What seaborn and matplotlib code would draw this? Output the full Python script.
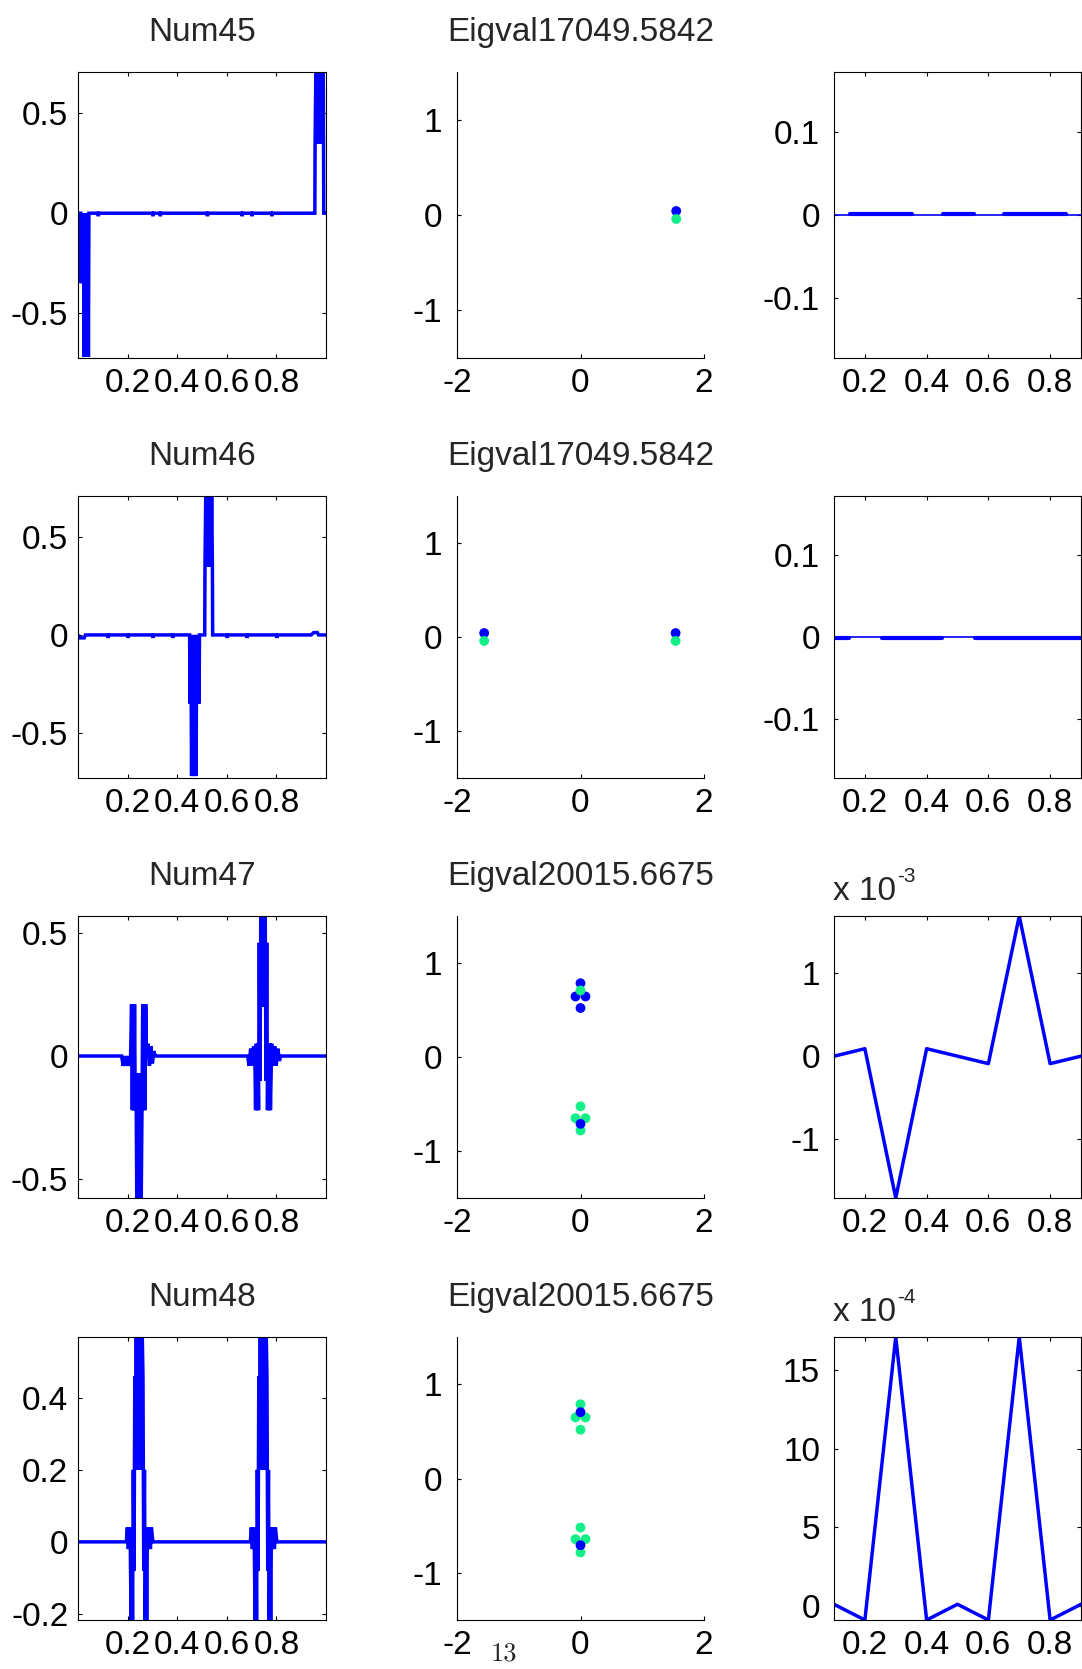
import matplotlib
matplotlib.use("Agg")
import matplotlib.pyplot as plt
import pandas as pd
import seaborn as sns

# ---------------- data ----------------
titles_left = ["Num45", "Num46", "Num47", "Num48"]
titles_mid = ["Eigval17049.5842", "Eigval17049.5842", "Eigval20015.6675", "Eigval20015.6675"]

# left column: eigenvector profiles (breakpoints)
num45_x = [0.000, 0.011, 0.012, 0.014, 0.016, 0.018, 0.020, 0.022, 0.025, 0.028, 0.031, 0.034, 0.037, 0.040, 0.042, 0.044,
           0.080, 0.082, 0.084, 0.300, 0.302, 0.304, 0.330, 0.332, 0.334, 0.520, 0.522, 0.524,
           0.660, 0.662, 0.664, 0.700, 0.702, 0.704, 0.780, 0.782, 0.784,
           0.955, 0.956, 0.959, 0.962, 0.965, 0.968, 0.971, 0.974, 0.977, 0.980, 0.983, 0.986, 0.989, 0.991, 1.000]
num45_y = [0.0, 0.0, -0.35, 0.0, -0.35, 0.0, -0.35, 0.0, -0.72, 0.0, -0.72, 0.0, -0.72, 0.0, -0.72, 0.0,
           0.0, -0.015, 0.0, 0.0, -0.015, 0.0, 0.0, -0.015, 0.0, 0.0, -0.015, 0.0,
           0.0, -0.015, 0.0, 0.0, -0.015, 0.0, 0.0, -0.015, 0.0,
           0.0, 0.35, 0.71, 0.35, 0.71, 0.35, 0.71, 0.35, 0.71, 0.35, 0.71, 0.35, 0.71, 0.0, 0.0]

num46_x = [0.000, 0.008, 0.025, 0.030, 0.120, 0.122, 0.124, 0.200, 0.202, 0.204, 0.300, 0.302, 0.304, 0.380, 0.382, 0.384,
           0.450, 0.452, 0.455, 0.458, 0.461, 0.464, 0.467, 0.470, 0.473, 0.476, 0.479, 0.482, 0.485, 0.488, 0.490,
           0.511, 0.512, 0.515, 0.518, 0.521, 0.524, 0.527, 0.530, 0.533, 0.536, 0.539, 0.542, 0.543,
           0.600, 0.602, 0.604, 0.680, 0.682, 0.684, 0.800, 0.802, 0.804, 0.940, 0.950, 0.965, 0.970, 1.000]
num46_y = [0.0, -0.015, -0.015, 0.0, 0.0, -0.015, 0.0, 0.0, -0.015, 0.0, 0.0, -0.015, 0.0, 0.0, -0.015, 0.0,
           0.0, -0.35, 0.0, -0.72, 0.0, -0.72, 0.0, -0.72, 0.0, -0.72, 0.0, -0.35, 0.0, -0.35, 0.0,
           0.0, 0.35, 0.71, 0.35, 0.71, 0.35, 0.71, 0.35, 0.71, 0.35, 0.71, 0.35, 0.0,
           0.0, -0.015, 0.0, 0.0, -0.015, 0.0, 0.0, -0.015, 0.0, 0.0, 0.012, 0.012, 0.0, 0.0]

num47_x = [0.000, 0.176, 0.182, 0.188, 0.194, 0.200, 0.206, 0.212,
           0.216, 0.219, 0.222, 0.225, 0.228, 0.231,
           0.234, 0.237, 0.240, 0.243, 0.246, 0.249, 0.252, 0.255,
           0.258, 0.261, 0.264, 0.267, 0.270, 0.273, 0.276,
           0.282, 0.288, 0.294, 0.300, 0.306, 0.312,
           0.684, 0.690, 0.696, 0.702, 0.708, 0.713,
           0.716, 0.719, 0.722, 0.725, 0.728, 0.731, 0.734,
           0.737, 0.740, 0.743, 0.746, 0.749, 0.752, 0.755,
           0.758, 0.761, 0.764, 0.767, 0.770, 0.773, 0.776,
           0.781, 0.787, 0.793, 0.799, 0.806, 0.812, 0.818, 1.000]
num47_y = [0.0, 0.0, -0.04, 0.0, -0.04, 0.0, -0.04, 0.0,
           0.21, -0.22, 0.21, -0.22, 0.21, -0.22,
           -0.07, -0.58, -0.07, -0.58, -0.07, -0.58, -0.07, -0.58,
           -0.22, 0.21, -0.22, 0.21, -0.22, 0.21, 0.0,
           0.05, -0.04, 0.04, -0.03, 0.02, 0.0,
           0.0, -0.04, 0.03, -0.04, 0.04, 0.0,
           -0.22, 0.05, -0.22, 0.05, -0.22, 0.46, -0.10,
           0.57, 0.20, 0.57, 0.20, 0.57, 0.20, 0.57,
           -0.10, 0.46, -0.22, 0.05, -0.22, 0.05, -0.22,
           0.05, -0.04, 0.04, -0.04, 0.03, -0.02, 0.0, 0.0]

num48_x = [0.000, 0.195, 0.199, 0.203, 0.207, 0.211,
           0.214, 0.217, 0.220, 0.223, 0.226, 0.229, 0.232,
           0.235, 0.238, 0.241, 0.244, 0.247, 0.250, 0.253, 0.256, 0.259,
           0.262, 0.265, 0.268, 0.271, 0.274, 0.277, 0.280,
           0.284, 0.288, 0.292, 0.296, 0.302,
           0.695, 0.699, 0.703, 0.707, 0.711,
           0.714, 0.717, 0.720, 0.723, 0.726, 0.729, 0.732,
           0.735, 0.738, 0.741, 0.744, 0.747, 0.750, 0.753, 0.756, 0.759,
           0.762, 0.765, 0.768, 0.771, 0.774, 0.777, 0.780,
           0.784, 0.788, 0.792, 0.796, 0.802, 1.000]
num48_y = [0.0, 0.0, 0.04, -0.02, 0.04, -0.02,
           -0.22, 0.04, -0.22, 0.20, -0.08, 0.46, 0.20,
           0.58, 0.20, 0.58, 0.20, 0.58, 0.20, 0.58, 0.20, 0.58,
           0.46, -0.08, 0.20, -0.22, 0.04, -0.22, 0.04,
           -0.02, 0.04, -0.02, 0.04, 0.0,
           0.0, 0.04, -0.02, 0.04, -0.02,
           -0.22, 0.04, -0.22, 0.20, -0.08, 0.46, 0.20,
           0.58, 0.20, 0.58, 0.20, 0.58, 0.20, 0.58, 0.20, 0.58,
           0.46, -0.08, 0.20, -0.22, 0.04, -0.22, 0.04,
           -0.02, 0.04, -0.02, 0.04, 0.0, 0.0]

left_ylims = [(-0.725, 0.707), (-0.73, 0.709), (-0.577, 0.569), (-0.217, 0.569)]
left_yticks = [[-0.5, 0, 0.5], [-0.5, 0, 0.5], [-0.5, 0, 0.5], [-0.2, 0, 0.2, 0.4]]
left_yticklabels = [["-0.5", "0", "0.5"], ["-0.5", "0", "0.5"], ["-0.5", "0", "0.5"], ["-0.2", "0", "0.2", "0.4"]]
left_xticks = [0.2, 0.4, 0.6, 0.8]
left_xticklabels = ["0.2", "0.4", "0.6", "0.8"]

# middle column: eigenvalue scatter, layers in drawing order (colour, x, y)
ev_layers = [
    [("blue", [1.55], [0.042]), ("green", [1.55], [-0.042])],
    [("blue", [-1.56, 1.54], [0.042, 0.042]), ("green", [-1.56, 1.54], [-0.042, -0.042])],
    [("blue", [0.0, -0.081, 0.081, 0.0], [0.785, 0.644, 0.644, 0.521]),
     ("green", [0.0], [0.708]),
     ("green", [0.0, -0.081, 0.081, 0.0], [-0.525, -0.651, -0.651, -0.782]),
     ("blue", [0.0], [-0.711])],
    [("green", [0.0, -0.081, 0.081, 0.0], [0.787, 0.647, 0.647, 0.517]),
     ("blue", [0.0], [0.703]),
     ("green", [0.0, -0.081, 0.081, 0.0], [-0.52, -0.643, -0.643, -0.784]),
     ("blue", [0.0], [-0.707])],
]
mid_xticks = [-2, 0, 2]
mid_xticklabels = ["-2", "0", "2"]
mid_yticks = [-1, 0, 1]
mid_yticklabels = ["-1", "0", "1"]

# right column
r_x = [0.1, 0.2, 0.3, 0.4, 0.5, 0.6, 0.7, 0.8, 0.9]
r45_y = [0.0, 0.0, 0.0, 0.0, 0.0, 0.0, 0.0, 0.0, 0.0]
r45_seg_start = [0.152, 0.452, 0.651]
r45_seg_end = [0.354, 0.553, 0.853]
r45_seg_level = 0.0016
r46_y = [0.0, 0.0, 0.0, 0.0, 0.0, 0.0, 0.0, 0.0, 0.0]
r46_seg_start = [0.100, 0.256, 0.556]
r46_seg_end = [0.149, 0.450, 0.900]
r46_seg_level = -0.0016
r47_y = [0.0, 0.09e-3, -1.71e-3, 0.09e-3, 0.0, -0.09e-3, 1.69e-3, -0.09e-3, 0.0]
r48_y = [0.1e-4, -0.9e-4, 17.1e-4, -0.9e-4, 0.1e-4, -0.9e-4, 17.1e-4, -0.9e-4, 0.1e-4]

right_ylims = [(-0.172, 0.172), (-0.172, 0.172), (-1.71e-3, 1.69e-3), (-0.9e-4, 17.1e-4)]
right_yticks = [[-0.1, 0, 0.1], [-0.1, 0, 0.1], [-1e-3, 0, 1e-3], [0, 5e-4, 10e-4, 15e-4]]
right_yticklabels = [["-0.1", "0", "0.1"], ["-0.1", "0", "0.1"], ["-1", "0", "1"], ["0", "5", "10", "15"]]
right_exponent = [None, None, "-3", "-4"]
right_xticks = [0.2, 0.4, 0.6, 0.8]
right_xticklabels = ["0.2", "0.4", "0.6", "0.8"]

page_number = "13"

# ---------------- style ----------------
sns.set_style("white")
plt.rcParams["font.family"] = ["Liberation Sans", "DejaVu Sans"]
plt.rcParams["axes.unicode_minus"] = False

BLUE = "#0000ff"
GREEN = "#12ef88"
FS = 24
W, H = 1082, 1669
fig = plt.figure(figsize=(W / 100, H / 100), dpi=100)

col_left = [78, 457, 834]
col_w = [248, 247, 247]
row_top = [72, 496, 916, 1337]
row_bot = [358, 778, 1198, 1620]


def make_ax(r, c):
    l = col_left[c] / W
    b = 1 - row_bot[r] / H
    w = col_w[c] / W
    h = (row_bot[r] - row_top[r]) / H
    return fig.add_axes([l, b, w, h])


def style_box(ax, ypad):
    for s in ax.spines.values():
        s.set_visible(True)
        s.set_color("black")
        s.set_linewidth(0.8)
    ax.tick_params(direction="in", length=3, width=0.8, colors="black",
                   top=True, right=True, bottom=True, left=True,
                   labelsize=FS, labelcolor="black")
    ax.tick_params(axis="x", pad=7)
    ax.tick_params(axis="y", pad=ypad)


left_data = [(num45_x, num45_y), (num46_x, num46_y), (num47_x, num47_y), (num48_x, num48_y)]

for r in range(4):
    # ---- left ----
    ax = make_ax(r, 0)
    xs, ys = left_data[r]
    assert len(xs) == len(ys), (r, len(xs), len(ys))
    sns.lineplot(x=xs, y=ys, ax=ax, sort=False, estimator=None, color=BLUE,
                 linewidth=2.5, solid_joinstyle="miter")
    ax.set_xlim(0, 1)
    ax.set_ylim(*left_ylims[r])
    ax.set_xticks(left_xticks)
    ax.set_xticklabels(left_xticklabels)
    ax.set_yticks(left_yticks[r])
    ax.set_yticklabels(left_yticklabels[r])
    style_box(ax, 7)
    ax.set_title(titles_left[r], fontsize=FS, pad=22)

    # ---- middle ----
    ax = make_ax(r, 1)
    for col, ex, ey in ev_layers[r]:
        sns.scatterplot(x=ex, y=ey, ax=ax, color=BLUE if col == "blue" else GREEN,
                        s=50, edgecolor="none", linewidth=0)
    ax.set_xlim(-2, 2)
    ax.set_ylim(-1.5, 1.5)
    ax.set_xticks(mid_xticks)
    ax.set_xticklabels(mid_xticklabels)
    ax.set_yticks(mid_yticks)
    ax.set_yticklabels(mid_yticklabels)
    for k in ["top", "right"]:
        ax.spines[k].set_visible(False)
    for k in ["left", "bottom"]:
        ax.spines[k].set_visible(True)
        ax.spines[k].set_color("black")
        ax.spines[k].set_linewidth(0.8)
    ax.tick_params(direction="in", length=3, width=0.8, colors="black",
                   top=False, right=False, bottom=True, left=True,
                   labelsize=FS, labelcolor="black")
    ax.tick_params(axis="x", pad=7)
    ax.tick_params(axis="y", pad=10.5)
    ax.set_title(titles_mid[r], fontsize=FS, pad=22)

    # ---- right ----
    ax = make_ax(r, 2)
    if r == 0 or r == 1:
        base = r45_y if r == 0 else r46_y
        s0 = r45_seg_start if r == 0 else r46_seg_start
        s1 = r45_seg_end if r == 0 else r46_seg_end
        lev = r45_seg_level if r == 0 else r46_seg_level
        sns.lineplot(x=r_x, y=base, ax=ax, sort=False, estimator=None, color=BLUE, linewidth=1.2)
        seg = pd.DataFrame({
            "x": [v for pair in zip(s0, s1) for v in pair],
            "y": [lev] * (2 * len(s0)),
            "seg": [i for i in range(len(s0)) for _ in range(2)],
        })
        sns.lineplot(data=seg, x="x", y="y", units="seg", estimator=None, sort=False,
                     ax=ax, color=BLUE, linewidth=3.0)
    else:
        yy = r47_y if r == 2 else r48_y
        sns.lineplot(x=r_x, y=yy, ax=ax, sort=False, estimator=None, color=BLUE, linewidth=2.5)
    ax.set_xlim(0.1, 0.9)
    ax.set_ylim(*right_ylims[r])
    ax.set_xticks(right_xticks)
    ax.set_xticklabels(right_xticklabels)
    ax.set_yticks(right_yticks[r])
    ax.set_yticklabels(right_yticklabels[r])
    style_box(ax, 10)
    if right_exponent[r] is not None:
        t1 = ax.text(-0.005, 1.057, "x 10", transform=ax.transAxes, fontsize=FS,
                     ha="left", va="baseline")
        ax.annotate(right_exponent[r], xy=(1.0, 0.80), xycoords=t1,
                    xytext=(1, 0), textcoords="offset points",
                    fontsize=15, ha="left", va="baseline")

    for a in fig.axes:
        a.set_xlabel("")
        a.set_ylabel("")
        leg = a.get_legend()
        if leg is not None:
            leg.remove()

fig.text(504 / W, 9 / H, page_number, family="cmr10", fontsize=19, ha="center", va="baseline")

fig.savefig("out.png", dpi=100, facecolor="white")
